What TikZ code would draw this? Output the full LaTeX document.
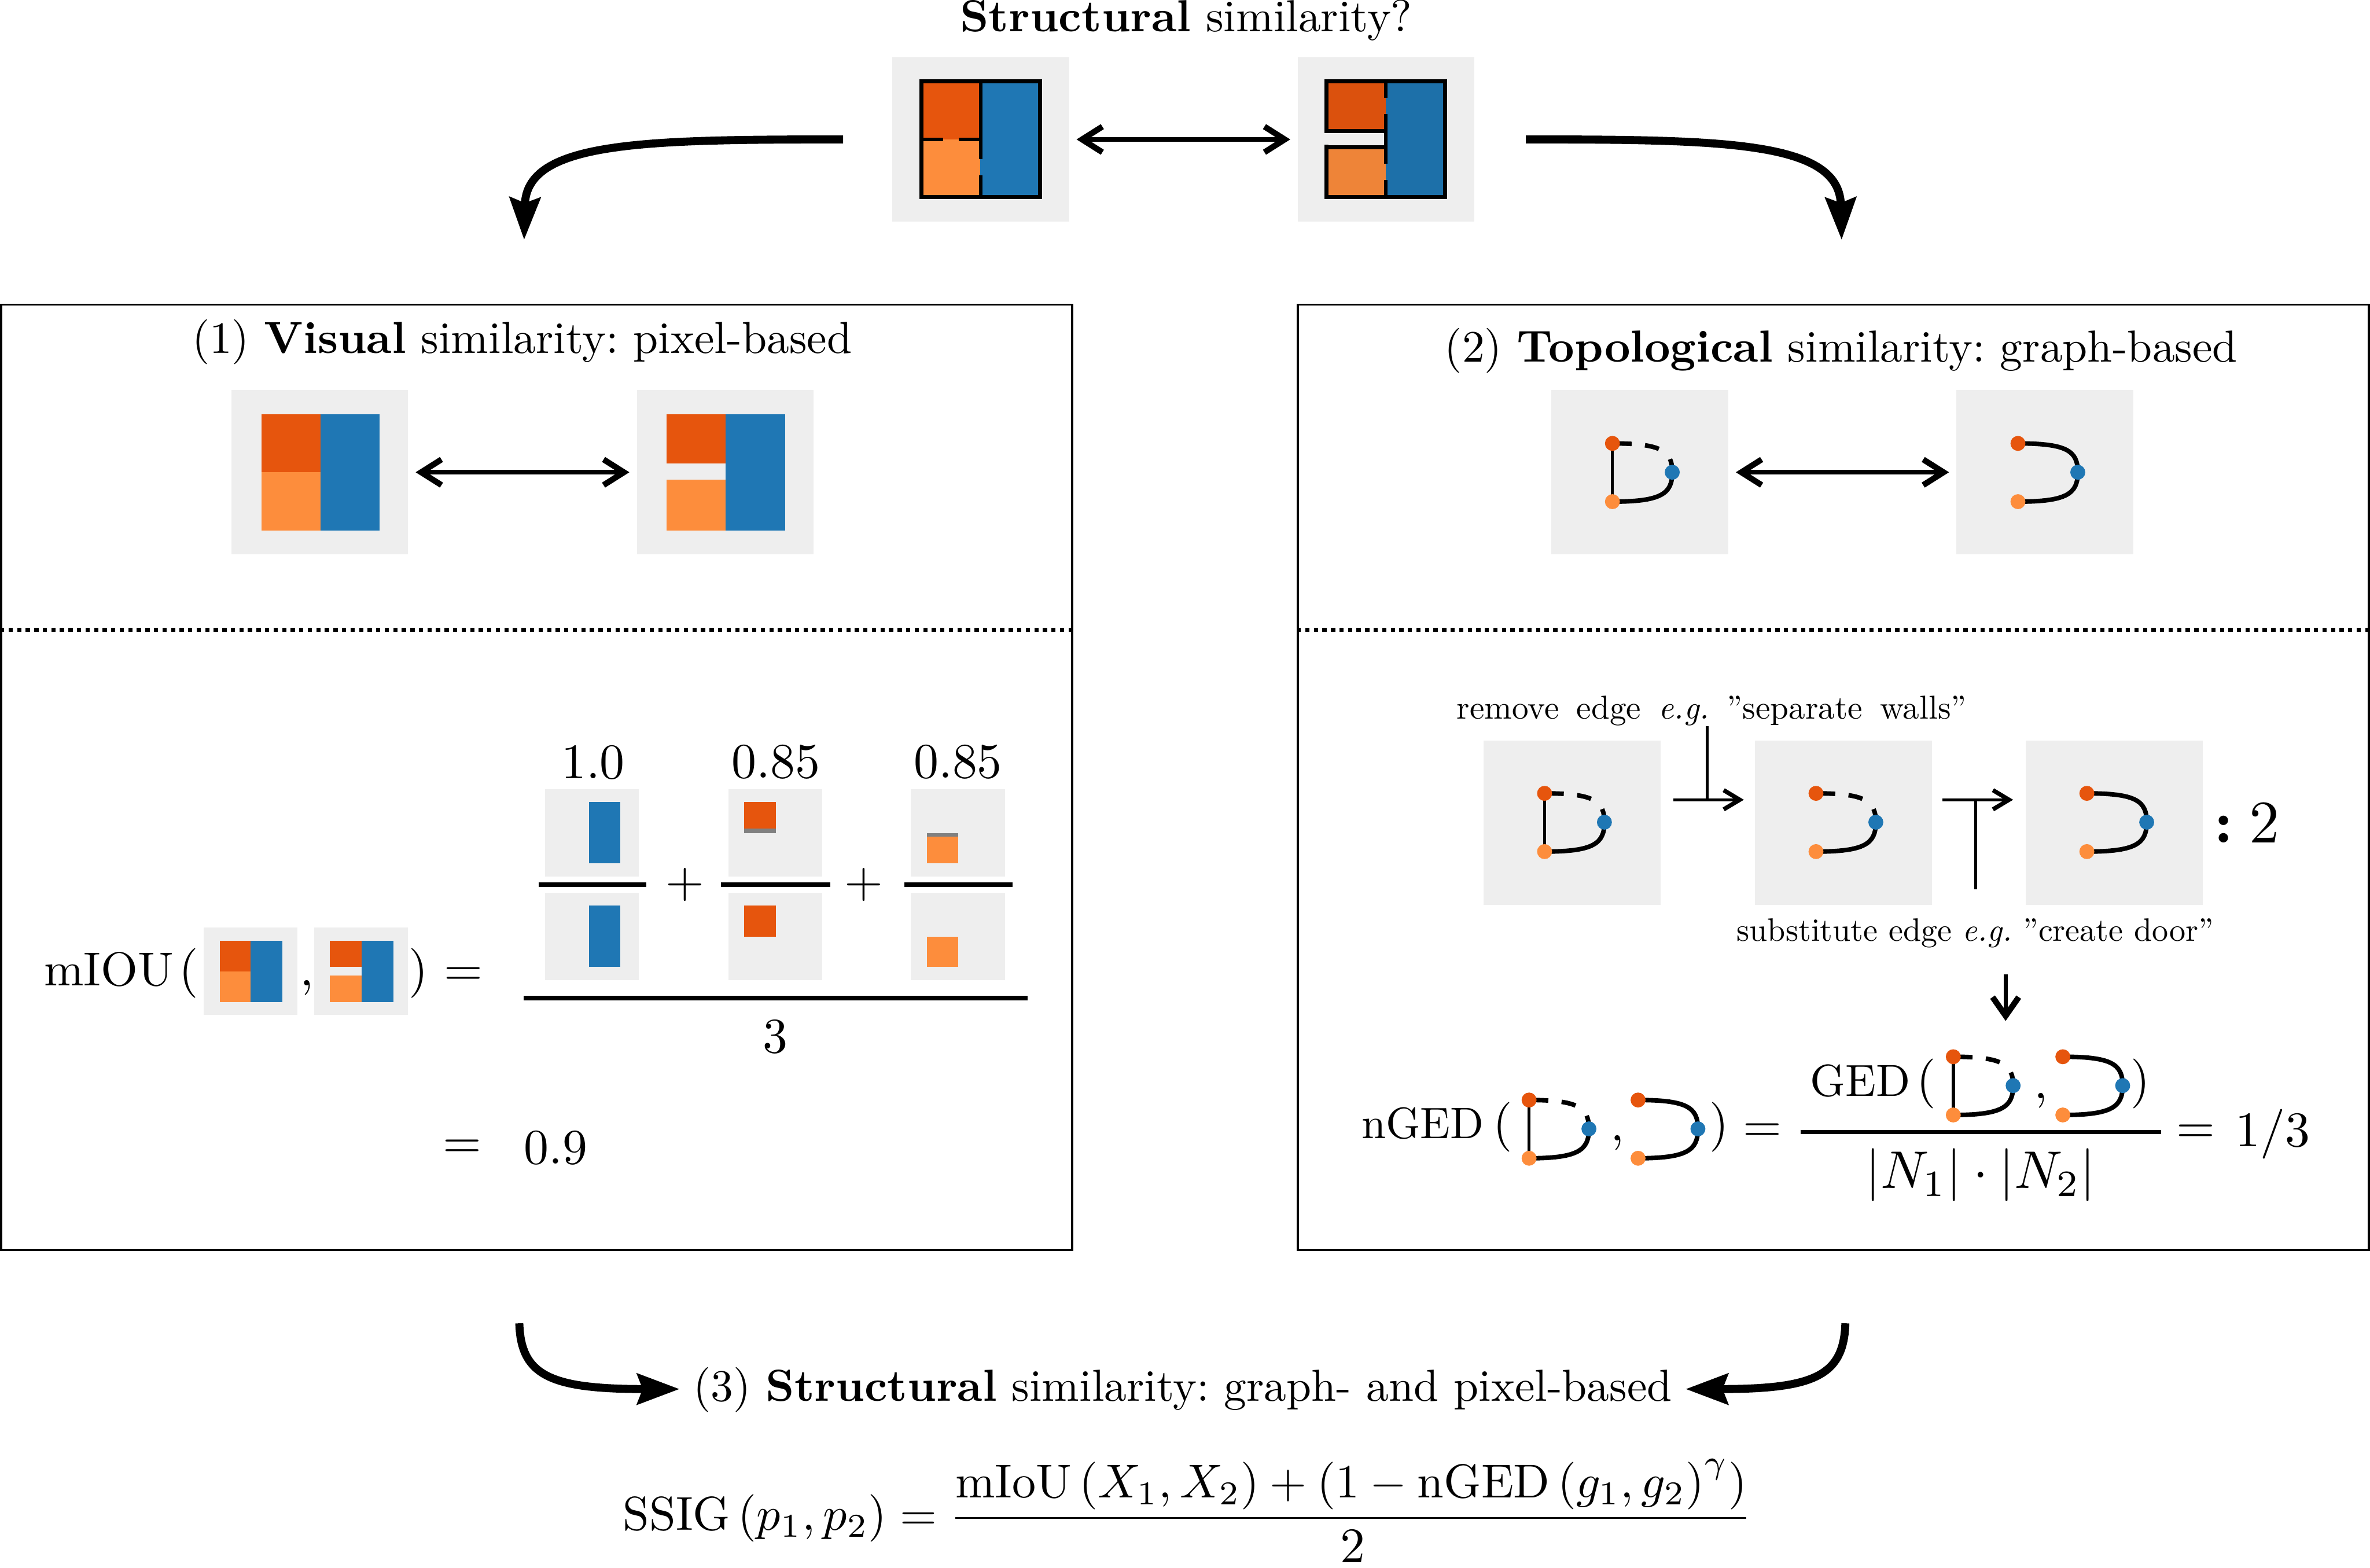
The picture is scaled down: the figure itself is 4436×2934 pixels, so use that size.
\documentclass[tikz,border=0pt]{standalone}
\usetikzlibrary{arrows.meta}
\definecolor{dkor}{HTML}{E6550D}
\definecolor{ltor}{HTML}{FD8D3C}
\definecolor{blu}{HTML}{1F77B4}
\definecolor{dkorB}{HTML}{DB510D}
\definecolor{ltorB}{HTML}{EE8438}
\definecolor{bluB}{HTML}{1D70A9}
\definecolor{tilec}{HTML}{EEEEEE}
\pgfdeclarelayer{front}
\pgfsetlayers{main,front}
\frenchspacing
\tikzset{
  x=0.1pt,y=-0.1pt,
  txt/.style={inner sep=0pt,outer sep=0pt,anchor=base,scale=0.84},
  numt/.style={inner sep=0pt,outer sep=0pt,anchor=base,scale=0.93},
  smalltxt/.style={inner sep=0pt,outer sep=0pt,anchor=base,scale=0.62},
  formula/.style={inner sep=0pt,outer sep=0pt,anchor=base,scale=0.89},
  tile/.style={fill=tilec,inner sep=0pt,outer sep=1.4pt,minimum width=33.1pt,minimum height=30.8pt},
  minitile/.style={fill=tilec,inner sep=0pt,minimum width=17.6pt,minimum height=16.4pt},
  panel/.style={draw=black,line width=0.4pt,inner sep=0pt,minimum width=200.5pt,minimum height=177pt},
  gnode/.style={circle,inner sep=0pt,minimum size=2.8pt},
  gedge/.style={line width=0.85pt},
  gvert/.style={line width=0.6pt},
  gdash/.style={line width=0.85pt,dash pattern=on 3.6pt off 2.5pt on 2.7pt off 2.9pt on 12pt off 0pt},
  wall/.style={line width=0.75pt},
  dbl/.style={line width=0.85pt,{Straight Barb[length=3.8pt,width=4.8pt,line width=1.1pt]}-{Straight Barb[length=3.8pt,width=4.8pt,line width=1.1pt]}},
  bigarrow/.style={line width=1.5pt,-{Stealth[length=7.9pt,width=5.7pt,inset=1pt]}},
  hookarrow/.style={line width=0.55pt,-{Straight Barb[length=3pt,width=3.6pt,line width=0.8pt]}},
  stemline/.style={line width=0.55pt},
  downarrow/.style={line width=0.8pt,-{Straight Barb[length=3.5pt,width=4.9pt,line width=1.1pt]}},
  fracbar/.style={line width=0.8pt},
}
\newcommand{\gverts}[3]{%
  \begin{pgfonlayer}{front}
  \node[gnode,fill=dkor] (#1a) at (#2,#3) {};
  \node[gnode,fill=blu] (#1b) at (#2+112,#3+54) {};
  \node[gnode,fill=ltor] (#1c) at (#2,#3+109) {};
  \end{pgfonlayer}}
\newcommand{\gbottom}[1]{\draw[gedge] (#1c.center) .. controls +(92,0) and +(0,40) .. (#1b.center);}
\newcommand{\gsolid}[3]{\gverts{#1}{#2}{#3}\gbottom{#1}%
  \draw[gedge] (#1a.center) .. controls +(92,0) and +(0,-40) .. (#1b.center);}
\newcommand{\gopen}[3]{\gverts{#1}{#2}{#3}\gbottom{#1}%
  \draw[gdash] (#1a.center) .. controls +(92,0) and +(0,-40) .. (#1b.center);}
\newcommand{\gfull}[3]{\gopen{#1}{#2}{#3}\draw[gvert] (#1a.center) -- (#1c.center);}
\newcommand{\tileat}[3]{\node[tile] (#1) at (#2+165.5,#3+154) {};}
\newcommand{\ftile}[3]{\node[minitile] (#1) at (#2+88,#3+82) {};}
\begin{document}
\begin{tikzpicture}
\useasboundingbox (0,0) rectangle (4436,2934);
\fill[white] (0,0) rectangle (4436,2934);

\node[txt] (ttop) at (2220,59) {\textbf{Structural} similarity?};

\tileat{ta}{1670}{107}
\tileat{tb}{2429}{107}
\fill[dkor] (1725,152) rectangle (1835,261);
\fill[ltor] (1725,261) rectangle (1835,369);
\fill[blu] (1835,152) rectangle (1947,369);
\draw[wall] (1721,152) -- (1951,152);
\draw[wall] (1721,369) -- (1951,369);
\draw[wall] (1725,148) -- (1725,373);
\draw[wall] (1947,148) -- (1947,373);
\draw[wall] (1725,261) -- (1765,261);
\draw[wall] (1795,261) -- (1835,261);
\draw[gvert] (1835.5,148) -- (1835.5,298);
\draw[gvert] (1835.5,328) -- (1835.5,373);

\fill[dkorB] (2483,152) rectangle (2594,245);
\fill[ltorB] (2483,275) rectangle (2594,369);
\fill[bluB] (2594,152) rectangle (2705,369);
\draw[wall] (2479,152) -- (2709,152);
\draw[wall] (2479,369) -- (2709,369);
\draw[wall] (2705,148) -- (2705,373);
\draw[wall] (2483,148) -- (2483,249);
\draw[wall] (2483,271) -- (2483,373);
\draw[wall] (2479,245.5) -- (2594,245.5);
\draw[wall] (2479,275.5) -- (2594,275.5);
\draw[gvert] (2594,148) -- (2594,183);
\draw[gvert] (2594,213) -- (2594,306);
\draw[gvert] (2594,337) -- (2594,373);
\draw[dbl] (ta.east) -- (tb.west);

\coordinate (bl0) at (1578,261);
\coordinate (bl1) at (981,449);
\coordinate (br0) at (2856,261);
\coordinate (br1) at (3447,449);
\draw[bigarrow] (bl0) .. controls (1200,261) and (985,265) .. (bl1);
\draw[bigarrow] (br0) .. controls (3234,261) and (3443,265) .. (br1);

\node[panel] (p1) at (1004.5,1455) {};
\node[panel] (p2) at (3431.5,1455) {};
\draw[line width=0.8pt,dash pattern=on 0.8pt off 0.8pt] (p1.west |- 0,1179) -- (p1.east |- 0,1179);
\draw[line width=0.8pt,dash pattern=on 0.8pt off 0.8pt] (p2.west |- 0,1179) -- (p2.east |- 0,1179);

\node[txt] (t1) at (977,661) {(1) \textbf{Visual} similarity: pixel-based};
\node[txt] (t2) at (3446,677) {(2) \textbf{Topological} similarity: graph-based};

\tileat{pa}{433}{730}
\tileat{pb}{1192}{730}
\fill[dkor] (489,775) rectangle (600,884);
\fill[ltor] (489,884) rectangle (600,993);
\fill[blu] (600,775) rectangle (710,993);
\fill[dkor] (1248,775) rectangle (1358,868);
\fill[ltor] (1248,898) rectangle (1358,993);
\fill[blu] (1358,775) rectangle (1470,993);
\draw[dbl] (pa.east) -- (pb.west);

\node[formula] (miou) at (204,1845) {mIOU};
\node[numt] (mo) at (353,1845) {(};
\ftile{ma}{381}{1736}
\fill[dkor] (411,1761) rectangle (469,1818);
\fill[ltor] (411,1818) rectangle (469,1876);
\fill[blu] (469,1761) rectangle (529,1876);
\node[numt] (mc) at (574,1845) {,};
\ftile{mb}{588}{1736}
\fill[dkor] (617,1761) rectangle (677,1810);
\fill[ltor] (617,1826) rectangle (677,1876);
\fill[blu] (677,1761) rectangle (736,1876);
\node[numt] (mp) at (783,1845) {)};
\node[numt] (me) at (867,1845) {$=$};

\node[numt] (n1) at (1110,1457) {1.0};
\node[numt] (n2) at (1452,1456) {0.85};
\node[numt] (n3) at (1793,1456) {0.85};
\ftile{fa}{1020}{1477}
\ftile{fb}{1020}{1671}
\ftile{fc}{1363}{1477}
\ftile{fd}{1363}{1671}
\ftile{fe}{1705}{1477}
\ftile{ff}{1705}{1671}
\fill[blu] (1102,1501) rectangle (1161,1616);
\fill[blu] (1102,1695) rectangle (1161,1810);
\fill[dkor] (1393,1501) rectangle (1452,1551);
\fill[black!50] (1393,1551) rectangle (1452,1559);
\fill[dkor] (1393,1695) rectangle (1452,1753);
\fill[black!50] (1735,1559) rectangle (1793,1566);
\fill[ltor] (1735,1566) rectangle (1793,1616);
\fill[ltor] (1735,1753) rectangle (1793,1810);
\draw[fracbar] (1008,1656) -- (1210,1656);
\draw[fracbar] (1349,1656) -- (1554,1656);
\draw[fracbar] (1693,1656) -- (1895,1656);
\node[numt] (pl1) at (1282,1679) {$+$};
\node[numt] (pl2) at (1617,1679) {$+$};
\draw[fracbar] (980,1868) -- (1923,1868);
\node[numt] (th) at (1451,1971) {3};
\node[numt] (eq9) at (865,2168) {$=$};
\node[numt] (v9) at (1040,2178) {0.9};

\tileat{qa}{2904}{730}
\tileat{qb}{3662}{730}
\gfull{ga}{3018}{830}
\gsolid{gb}{3777}{830}
\draw[dbl] (qa.east) -- (qb.west);

\node[smalltxt] (rem) at (3204,1346) {remove\hspace{.53em}edge\hspace{.53em}\textit{e.g.}\hspace{.53em}''separate\hspace{.53em}walls''};
\node[smalltxt,scale=0.98] (sub) at (3697,1761) {substitute edge \textit{e.g.} ''create door''};
\tileat{ra}{2777}{1386}
\tileat{rb}{3285}{1386}
\tileat{rc}{3792}{1386}
\gfull{gc}{2891}{1485}
\gopen{gd}{3399}{1485}
\gsolid{ge}{3906}{1485}
\coordinate (c1a) at (3132,1497);
\coordinate (c1b) at (3264,1497);
\coordinate (c1c) at (3195,1497);
\coordinate (c2a) at (3636,1497);
\coordinate (c2b) at (3768,1497);
\coordinate (c2c) at (3698,1497);
\draw[hookarrow] (c1a) -- (c1b);
\draw[stemline] (c1c) -- (c1c |- rem.south);
\draw[hookarrow] (c2a) -- (c2b);
\draw[stemline] (c2c) -- (3698,1665);
\node[inner sep=0pt,outer sep=0pt,anchor=base,scale=1.13] (col) at (4162,1577) {\textbf{:}};
\node[inner sep=0pt,outer sep=0pt,anchor=base,scale=1.13] (two) at (4238,1577) {2};
\coordinate (d0) at (3754,1824);
\coordinate (d1) at (3754,1911);
\draw[downarrow] (d0) -- (d1);

\node[txt,scale=0.98] (nged) at (2663,2131) {nGED};
\node[numt] (no) at (2813,2133) {(};
\gfull{gf}{2862}{2059}
\node[numt] (nc) at (3027,2135) {,};
\gsolid{gg}{3066}{2059}
\node[numt] (nm) at (3218,2133) {)};
\node[numt] (ne) at (3299,2137) {$=$};
\node[txt] (ged) at (3482,2052) {GED};
\node[numt] (go) at (3606,2052) {(};
\gfull{gh}{3656}{1978}
\node[numt] (gc1) at (3820,2056) {,};
\gsolid{gi}{3861}{1978}
\node[numt] (gm) at (4006,2052) {)};
\draw[line width=0.7pt] (3370,2119) -- (4045,2119);
\node[inner sep=0pt,outer sep=0pt,anchor=base,scale=0.99] (nn) at (3707,2224) {$|N_1|\cdot|N_2|$};
\node[numt] (ne2) at (4110,2140) {$=$};
\node[numt] (frac) at (4254,2146) {$1/3$};

\coordinate (el0) at (972,2477);
\coordinate (el1) at (1272,2600);
\coordinate (er0) at (3454,2477);
\coordinate (er1) at (3155,2600);
\draw[bigarrow] (el0) .. controls (975,2575) and (1030,2600) .. (el1);
\draw[bigarrow] (er0) .. controls (3451,2575) and (3396,2600) .. (er1);
\node[txt] (t3) at (2214,2623) {(3) \textbf{Structural} similarity: graph- and pixel-based};

\node[formula,anchor=base east] (ss) at (1754,2864) {$\mathop{\mathrm{SSIG}}\left(p_1,p_2\right)=$};
\node[formula] (num) at (2529,2803) {$\mathop{\mathrm{mIoU}}\left(X_1,X_2\right)+\left(1-\mathop{\mathrm{nGED}}\left(g_1,g_2\right)^{\gamma}\right)$};
\draw[line width=0.28pt] (1788,2841) -- (3268,2841);
\node[numt] (dn) at (2532,2925) {2};
\end{tikzpicture}
\end{document}
